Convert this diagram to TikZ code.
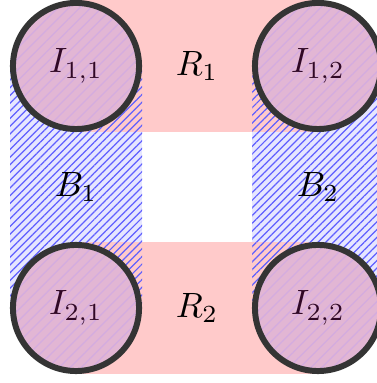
\documentclass[tikz,border=0pt]{standalone}
\usepackage{tikz}
\usetikzlibrary{patterns.meta}
\definecolor{roadbg}{RGB}{255,202,202}
\definecolor{bandbg}{RGB}{230,230,255}
\definecolor{hatchblue}{RGB}{95,95,255}
\definecolor{isbg}{RGB}{226,182,212}
\definecolor{ishatch}{RGB}{212,172,224}
\definecolor{isborder}{RGB}{52,52,52}
\definecolor{istext}{RGB}{48,8,38}
\tikzset{
  roadrect/.style={fill=roadbg},
  bandrect/.style={fill=bandbg},
  bandhatch/.style={pattern={Lines[angle=45, distance=1.55pt, line width=0.35pt]},
                    pattern color=hatchblue},
  isle/.style={circle, draw=isborder, line width=1.7pt, minimum size=1.26cm,
               inner sep=0pt, preaction={fill=isbg},
               pattern={Lines[angle=45, distance=2.2pt, line width=0.35pt]},
               pattern color=ishatch, text=istext, font=\normalsize},
  lbl/.style={inner sep=0pt, font=\normalsize},
}

\begin{document}
\begin{tikzpicture}[x=0.01cm, y=0.01cm]
  \useasboundingbox (0,0) rectangle (377,383);
  \begin{scope}
    \clip (0,0) rectangle (377,383);
    % bands and roads
    \fill[bandrect] (10,75) rectangle (142,317);
    \fill[bandrect] (252,75) rectangle (384,317);
    \fill[roadrect] (76,251) rectangle (318,383);
    \fill[roadrect] (76,9) rectangle (318,141);
    \fill[bandhatch] (10,75) rectangle (142,317);
    \fill[bandhatch] (252,75) rectangle (384,317);

    % corner circles
    \node[isle] (i11) at (76,317) {$I_{1,1}$};
    \node[isle] (i12) at (318,317) {$I_{1,2}$};
    \node[isle] (i21) at (76,75)  {$I_{2,1}$};
    \node[isle] (i22) at (318,75) {$I_{2,2}$};
  \end{scope}

  \node[lbl] (r1) at (197,317) {$R_1$};
  \node[lbl] (r2) at (197,75)  {$R_2$};
  \node[lbl] (b1) at (76,196)  {$B_1$};
  \node[lbl] (b2) at (318,196) {$B_2$};
\end{tikzpicture}
\end{document}
